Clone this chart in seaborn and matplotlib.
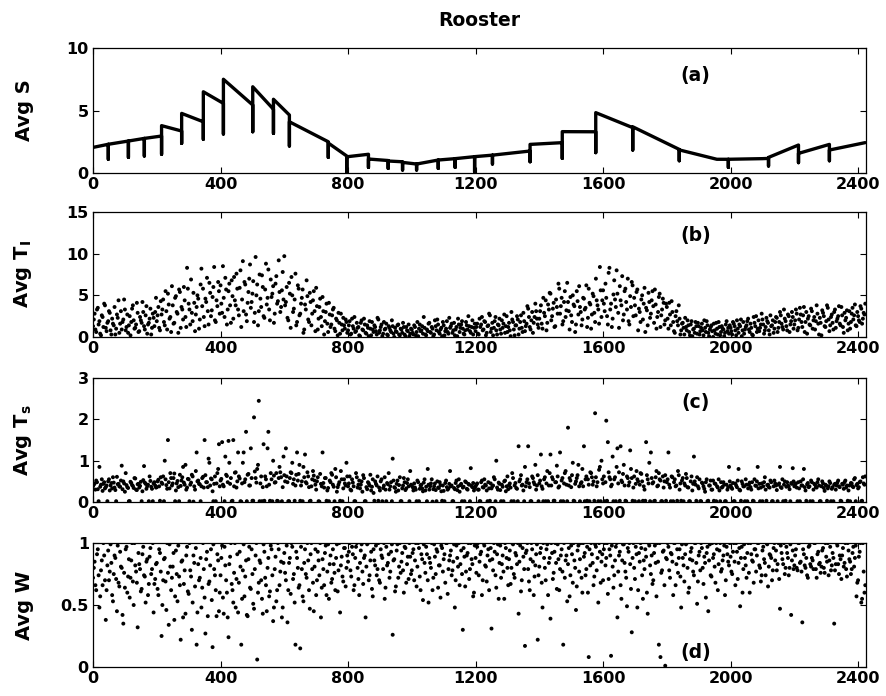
import numpy as np
import pandas as pd
import matplotlib
matplotlib.use("Agg")
import matplotlib.pyplot as plt
import seaborn as sns

# ---------------- data ----------------
title = "Rooster"
x_ticks = [0, 400, 800, 1200, 1600, 2000, 2400]

# (a) Avg S : polyline vertices (sawtooth with downward spikes)
s_x = [0, 48, 48, 48, 111, 111, 111, 161, 161, 161, 215, 215, 215, 278, 278, 278,
       346, 346, 346, 409, 409, 409, 501, 501, 501, 566, 566, 566, 616, 616, 616,
       738, 738, 738, 796, 796, 796, 864, 864, 864, 926, 926, 926, 971, 971, 971,
       1015, 1015, 1015, 1083, 1083, 1083, 1136, 1136, 1136, 1197, 1197, 1197,
       1253, 1253, 1253, 1371, 1371, 1371, 1472, 1472, 1472, 1577, 1577, 1577,
       1693, 1693, 1693, 1839, 1839, 1839, 1957, 1993, 1993, 1993, 2100,
       2119, 2119, 2119, 2213, 2213, 2213, 2310, 2310, 2310, 2422]
s_y = [2.05, 2.3, 1.1, 2.3, 2.56, 1.25, 2.56, 2.77, 1.36, 2.77, 2.96, 1.5, 3.79,
       3.36, 2.37, 4.77, 4.1, 2.7, 6.5, 5.57, 3.12, 7.5, 5.44, 3.3, 6.9, 5.1, 3.17, 5.9,
       4.64, 2.16, 4.1, 2.5, 1.25, 2.4, 1.36, 0.1, 1.3, 1.5, 0.45, 1.12, 1.0, 0.37, 0.96,
       0.9, 0.24, 0.85, 0.72, 0.24, 0.72, 1.04, 0.37, 1.04, 1.15, 0.45, 1.15,
       1.31, 0.1, 1.31, 1.43, 0.72, 1.43, 1.76, 0.9, 2.29, 2.43, 1.17, 3.31,
       3.3, 1.63, 4.83, 3.63, 1.84, 3.7, 1.89, 0.98, 1.85, 1.1, 1.1, 0.45, 1.1, 1.15,
       1.17, 0.56, 1.25, 2.24, 0.83, 1.57, 2.29, 0.98, 1.84, 2.43]

# (b) Avg T_I  (values in tenths; set A at steps 0,5,10,..., set B at 2.5,7.5,...)
ti_tenths = [
    13, 28, 6, 35, 19, 2, 24, 40, 11, 17, 31, 8, 22, 14, 3, 27, 44, 16, 9, 21, 33, 12, 5, 25, 18, 38, 10, 15, 29, 7, 20, 42, 13, 26, 4, 17, 34, 11, 23, 30,
    19, 36, 8, 27, 45, 14, 31, 52, 22, 6, 38, 17, 49, 28, 57, 11, 33, 60, 24, 83, 40, 15, 29, 53, 7, 36, 46, 21, 82, 58, 13, 42, 31, 65, 25, 48, 84, 18, 37, 55,
    62, 29, 47, 71, 15, 55, 38, 68, 22, 44, 76, 33, 59, 12, 91, 66, 27, 41, 70, 35, 52, 18, 96, 63, 31, 46, 74, 25, 57, 39, 81, 20, 48, 61, 28, 73, 43, 54, 36, 78,
    97, 42, 23, 65, 11, 50, 34, 76, 18, 58, 28, 47, 5, 39, 68, 21, 53, 14, 44, 31, 59, 9, 36, 24, 48, 3, 30, 16, 41, 12, 26, 35, 7, 20, 29, 4, 15, 23, 10, 18,
    8, 19, 4, 13, 24, 7, 11, 2, 17, 9, 22, 5, 14, 1, 10, 18, 6, 12, 3, 21, 8, 15, 4, 9, 16, 2, 11, 6, 13, 0, 7, 14, 3, 10, 5, 12, 1, 8, 15, 4,
    9, 3, 12, 6, 1, 15, 8, 4, 11, 2, 7, 17, 5, 10, 3, 13, 21, 6, 9, 1, 14, 7, 19, 4, 11, 16, 8, 2, 12, 22, 6, 15, 10, 3, 18, 9, 13, 5, 20, 11,
    7, 16, 3, 12, 24, 9, 18, 5, 14, 26, 10, 2, 19, 8, 15, 22, 4, 11, 27, 13, 6, 17, 1, 21, 9, 14, 25, 3, 18, 11, 29, 7, 16, 34, 12, 20, 5, 24, 31, 15,
    22, 38, 10, 29, 44, 17, 33, 52, 25, 41, 13, 36, 64, 28, 47, 19, 55, 32, 42, 9, 26, 50, 37, 15, 43, 61, 30, 21, 46, 35, 12, 58, 39, 27, 49, 18, 44, 33, 84, 24,
    56, 31, 47, 15, 83, 40, 22, 68, 36, 52, 11, 44, 73, 27, 58, 33, 19, 49, 66, 25, 38, 54, 8, 30, 45, 21, 59, 35, 14, 42, 28, 55, 17, 39, 24, 48, 12, 33, 41, 20,
    36, 10, 27, 43, 18, 5, 31, 14, 22, 8, 17, 3, 12, 20, 6, 15, 1, 10, 18, 4, 13, 7, 16, 2, 11, 19, 5, 9, 14, 0, 8, 17, 3, 12, 6, 10, 1, 15, 7, 4,
    11, 3, 16, 8, 20, 5, 13, 1, 18, 9, 14, 22, 6, 11, 2, 17, 25, 10, 7, 15, 21, 4, 12, 19, 8, 26, 14, 5, 18, 23, 11, 30, 16, 9, 22, 13, 27, 6, 19, 24,
    15, 33, 8, 21, 27, 12, 36, 18, 4, 25, 14, 31, 20, 9, 38, 16, 23, 2, 29, 13, 19, 35, 7, 24, 17, 30, 11, 22, 37, 14, 26, 5, 20, 32, 16, 10, 28, 21, 39, 13, 25, 18, 34, 22, 27,
]
ti2_tenths = [
    21, 9, 33, 15, 4, 26, 12, 38, 7, 19, 29, 3, 16, 36, 10, 23, 5, 31, 18, 45, 8, 27, 14, 2, 34, 20, 11, 41, 6, 24, 17, 30, 9, 37, 15, 22, 3, 28, 13, 47,
    26, 11, 43, 33, 18, 55, 9, 39, 24, 61, 16, 47, 30, 5, 54, 36, 21, 44, 12, 58, 33, 69, 19, 41, 27, 50, 10, 63, 37, 24, 46, 71, 15, 53, 32, 60, 20, 44, 66, 28,
    40, 85, 24, 57, 33, 64, 17, 49, 72, 38, 58, 26, 80, 45, 31, 63, 19, 54, 87, 42, 67, 29, 50, 14, 75, 36, 60, 23, 88, 47, 33, 69, 52, 17, 64, 40, 92, 30, 56, 45,
    38, 60, 20, 52, 72, 30, 45, 14, 62, 26, 40, 57, 9, 33, 49, 18, 42, 28, 55, 7, 37, 22, 46, 13, 31, 19, 40, 6, 27, 15, 33, 10, 22, 2, 17, 28, 8, 14, 21, 5,
    14, 3, 22, 10, 6, 17, 12, 1, 20, 8, 15, 4, 11, 19, 2, 9, 14, 7, 23, 5, 12, 1, 18, 10, 3, 13, 8, 20, 4, 11, 6, 15, 2, 9, 17, 3, 12, 7, 1, 10,
    5, 14, 2, 18, 10, 7, 13, 24, 3, 9, 16, 6, 12, 1, 20, 8, 15, 4, 11, 18, 2, 10, 6, 23, 13, 5, 17, 9, 1, 15, 11, 19, 4, 8, 14, 25, 7, 12, 3, 16,
    12, 4, 22, 15, 8, 19, 2, 13, 28, 6, 17, 11, 24, 3, 14, 9, 20, 16, 5, 25, 12, 8, 30, 18, 2, 14, 21, 10, 26, 6, 19, 13, 37, 24, 9, 30, 17, 40, 22, 11,
    31, 16, 47, 25, 8, 39, 53, 20, 34, 12, 45, 28, 58, 37, 15, 42, 24, 65, 31, 48, 18, 39, 6, 55, 27, 36, 14, 47, 33, 62, 23, 41, 10, 52, 29, 70, 38, 16, 56, 44,
    40, 64, 25, 77, 33, 12, 51, 45, 80, 29, 61, 38, 20, 55, 42, 70, 15, 36, 62, 47, 26, 57, 34, 18, 50, 40, 6, 32, 53, 23, 44, 37, 57, 10, 30, 52, 26, 46, 15, 40,
    22, 41, 14, 30, 7, 25, 19, 38, 3, 16, 11, 23, 8, 14, 2, 19, 9, 5, 13, 17, 3, 11, 8, 20, 6, 14, 1, 12, 7, 16, 4, 10, 18, 2, 13, 9, 5, 19, 11, 14,
    7, 18, 13, 2, 10, 15, 21, 8, 4, 12, 19, 9, 16, 3, 24, 13, 6, 20, 11, 28, 15, 8, 23, 17, 3, 13, 20, 10, 24, 6, 18, 26, 12, 33, 19, 8, 25, 15, 30, 10,
    20, 28, 11, 35, 18, 26, 6, 30, 22, 15, 34, 10, 24, 19, 28, 3, 17, 32, 25, 12, 38, 21, 14, 27, 9, 33, 19, 25, 16, 36, 12, 29, 23, 8, 31, 18, 35, 26, 14, 30, 20, 37, 16, 29, 40,
]

# (c) Avg T_s  (values in hundredths)
ts_hund = [
    38, 45, 52, 31, 85, 42, 27, 48, 36, 2, 55, 40, 33, 47, 29, 61, 44, 37, 88, 50, 25, 41, 34, 2, 46, 39, 58, 30, 43, 35, 49, 26, 87, 44, 38, 2, 51, 32, 45, 40,
    36, 54, 3, 47, 62, 100, 41, 150, 33, 58, 45, 69, 28, 51, 2, 39, 60, 47, 90, 35, 55, 42, 66, 1, 30, 120, 52, 43, 38, 61, 150, 48, 36, 95, 57, 26, 44, 2, 70, 140,
    52, 145, 38, 110, 63, 148, 44, 2, 150, 71, 35, 120, 57, 1, 95, 48, 170, 66, 40, 130, 3, 205, 58, 80, 245, 45, 2, 140, 62, 38, 170, 3, 55, 100, 47, 70, 2, 85, 60, 36,
    65, 130, 48, 2, 72, 95, 55, 40, 120, 68, 3, 50, 85, 115, 45, 62, 2, 38, 75, 52, 30, 60, 1, 44, 120, 35, 58, 28, 2, 48, 66, 37, 80, 25, 42, 3, 55, 33, 45, 95,
    38, 62, 28, 47, 2, 70, 35, 52, 42, 25, 58, 2, 31, 45, 66, 37, 22, 50, 40, 3, 28, 55, 34, 60, 2, 43, 30, 48, 105, 36, 25, 52, 41, 2, 33, 58, 29, 46, 38, 75,
    40, 28, 35, 2, 48, 32, 42, 26, 55, 37, 80, 30, 45, 1, 38, 29, 50, 34, 41, 3, 27, 46, 36, 33, 75, 40, 2, 31, 52, 38, 25, 44, 35, 2, 48, 30, 42, 82, 36, 28,
    38, 45, 30, 2, 52, 35, 42, 28, 48, 3, 33, 40, 55, 100, 30, 44, 2, 37, 50, 26, 62, 41, 35, 70, 2, 46, 32, 135, 55, 40, 28, 85, 48, 135, 36, 2, 58, 43, 30, 65,
    45, 115, 32, 55, 2, 75, 40, 115, 60, 3, 48, 88, 35, 120, 52, 2, 70, 42, 180, 58, 36, 95, 2, 50, 65, 38, 45, 80, 135, 55, 3, 42, 72, 60, 50, 215, 38, 2, 85, 100,
    45, 2, 197, 145, 60, 38, 110, 55, 2, 130, 72, 135, 48, 90, 3, 62, 40, 125, 58, 35, 2, 75, 50, 42, 68, 3, 30, 145, 55, 95, 120, 45, 2, 60, 38, 70, 52, 2, 35, 65,
    48, 120, 35, 62, 2, 55, 40, 75, 30, 3, 58, 45, 68, 36, 2, 50, 28, 110, 42, 60, 33, 2, 47, 38, 25, 55, 3, 40, 30, 52, 45, 2, 35, 28, 48, 37, 42, 2, 30, 85,
    40, 32, 2, 45, 36, 80, 28, 50, 38, 2, 42, 33, 47, 30, 3, 55, 39, 85, 44, 35, 2, 48, 30, 41, 36, 52, 2, 38, 45, 29, 42, 85, 34, 2, 50, 37, 40, 31, 46, 82,
    38, 45, 2, 33, 50, 40, 80, 28, 43, 36, 2, 48, 30, 42, 35, 55, 2, 38, 45, 27, 40, 33, 50, 2, 36, 42, 30, 47, 38, 3, 44, 32, 52, 40, 28, 2, 45, 36, 58, 41, 33, 48, 2, 60, 42,
]
ts2_hund = [
    42, 30, 48, 2, 37, 55, 44, 33, 40, 50, 28, 46, 60, 35, 2, 43, 38, 52, 31, 45, 70, 36, 2, 49, 41, 34, 57, 29, 44, 39, 2, 53, 47, 32, 42, 62, 37, 2, 48, 35,
    50, 38, 60, 44, 2, 55, 32, 48, 70, 40, 58, 2, 45, 36, 66, 52, 85, 42, 30, 56, 2, 47, 62, 38, 75, 50, 44, 2, 58, 35, 65, 48, 105, 40, 55, 2, 62, 45, 80, 38,
    56, 42, 2, 66, 48, 95, 58, 3, 38, 72, 50, 62, 2, 45, 120, 55, 2, 68, 40, 58, 3, 74, 47, 90, 2, 62, 36, 3, 55, 130, 42, 70, 2, 64, 48, 3, 58, 72, 2, 110,
    50, 62, 2, 58, 70, 44, 3, 66, 52, 90, 40, 2, 60, 48, 72, 36, 3, 55, 64, 42, 50, 2, 68, 38, 46, 58, 3, 34, 52, 70, 42, 2, 60, 36, 48, 75, 2, 55, 40, 62,
    45, 30, 55, 38, 2, 60, 42, 33, 50, 65, 2, 36, 48, 40, 28, 55, 3, 44, 62, 35, 50, 2, 40, 30, 46, 70, 38, 2, 52, 34, 44, 28, 60, 2, 40, 48, 33, 55, 2, 42,
    36, 45, 30, 52, 2, 40, 33, 47, 28, 2, 42, 38, 55, 31, 45, 2, 35, 48, 26, 40, 2, 52, 30, 44, 38, 2, 34, 46, 29, 55, 41, 2, 37, 50, 32, 44, 2, 39, 46, 34,
    42, 30, 2, 48, 36, 55, 40, 2, 33, 45, 38, 60, 2, 35, 47, 29, 42, 2, 52, 38, 31, 45, 2, 58, 40, 34, 2, 50, 65, 42, 2, 38, 55, 45, 2, 62, 48, 90, 40, 2,
    52, 38, 2, 60, 45, 2, 70, 40, 55, 3, 48, 62, 38, 2, 58, 45, 75, 2, 40, 52, 65, 3, 44, 58, 90, 2, 48, 38, 2, 62, 55, 2, 70, 42, 3, 60, 48, 78, 2, 55,
    62, 48, 3, 72, 55, 42, 2, 60, 85, 45, 3, 52, 68, 40, 2, 58, 48, 80, 3, 62, 44, 55, 2, 70, 50, 38, 3, 65, 45, 2, 58, 48, 3, 75, 40, 55, 2, 62, 50, 3,
    55, 42, 2, 60, 48, 38, 3, 65, 45, 52, 2, 40, 58, 35, 2, 62, 44, 50, 3, 38, 55, 2, 45, 32, 48, 2, 40, 52, 30, 3, 44, 38, 55, 2, 35, 48, 2, 42, 36, 50,
    35, 46, 2, 40, 52, 30, 3, 44, 38, 55, 2, 42, 36, 48, 2, 40, 50, 33, 2, 45, 38, 60, 3, 42, 35, 48, 2, 52, 40, 2, 45, 36, 55, 42, 3, 48, 38, 2, 44, 50,
    42, 35, 48, 2, 40, 55, 36, 3, 46, 38, 52, 2, 44, 36, 48, 40, 2, 50, 34, 42, 3, 38, 46, 32, 2, 44, 40, 52, 36, 2, 42, 48, 35, 3, 40, 46, 38, 55, 2, 44, 36, 50, 3, 45, 62,
]

# (d) Avg W  (values in hundredths)
w_hund = [
    72, 85, 62, 95, 48, 78, 66, 90, 38, 82, 70, 99, 58, 75, 88, 45, 68, 93, 80, 35, 64, 97, 73, 56, 86, 69, 100, 77, 32, 83, 61, 91, 74, 52, 87, 67, 96, 79, 44, 71,
    84, 58, 92, 25, 70, 88, 46, 76, 99, 62, 81, 38, 94, 53, 73, 22, 86, 67, 43, 97, 59, 78, 30, 90, 65, 18, 83, 72, 48, 100, 56, 87, 41, 69, 95, 16, 79, 62, 91, 45,
    74, 98, 43, 82, 60, 24, 89, 67, 52, 100, 71, 44, 93, 18, 78, 57, 86, 41, 97, 63, 75, 47, 90, 6, 68, 84, 55, 99, 72, 45, 88, 61, 95, 37, 79, 53, 100, 66, 85, 48,
    92, 70, 36, 84, 59, 97, 75, 18, 88, 64, 15, 79, 53, 95, 72, 86, 47, 100, 68, 81, 58, 93, 74, 40, 87, 66, 98, 77, 55, 90, 71, 83, 62, 99, 78, 44, 89, 69, 96, 80,
    85, 100, 73, 91, 66, 97, 80, 58, 94, 77, 88, 40, 99, 70, 86, 63, 95, 82, 74, 100, 68, 90, 79, 55, 97, 84, 72, 93, 26, 87, 65, 99, 81, 76, 92, 60, 96, 83, 71, 89,
    78, 95, 86, 65, 100, 73, 91, 54, 84, 97, 70, 88, 80, 62, 99, 75, 93, 82, 56, 96, 87, 68, 100, 79, 90, 74, 85, 48, 98, 81, 66, 94, 30, 89, 77, 92, 71, 100, 83, 60,
    88, 97, 74, 91, 58, 100, 82, 69, 95, 86, 31, 78, 93, 64, 99, 84, 72, 90, 55, 96, 80, 87, 67, 100, 75, 92, 83, 43, 98, 70, 89, 17, 94, 79, 62, 100, 85, 73, 91, 22,
    81, 96, 48, 88, 70, 99, 84, 39, 92, 76, 100, 63, 87, 79, 95, 18, 72, 90, 83, 57, 98, 68, 86, 46, 94, 77, 100, 60, 89, 74, 97, 8, 82, 91, 66, 99, 78, 52, 93, 85,
    70, 100, 88, 59, 95, 9, 81, 74, 97, 40, 90, 66, 86, 99, 77, 49, 93, 83, 28, 100, 71, 91, 62, 85, 96, 55, 79, 89, 43, 98, 75, 67, 92, 84, 100, 18, 8, 78, 94, 1,
    87, 97, 72, 91, 58, 100, 83, 76, 95, 48, 88, 69, 99, 80, 64, 93, 86, 74, 100, 51, 90, 78, 96, 67, 84, 92, 45, 99, 73, 88, 81, 100, 62, 94, 77, 86, 98, 70, 91, 82,
    89, 75, 100, 66, 93, 84, 49, 97, 79, 88, 72, 100, 60, 91, 85, 95, 77, 100, 82, 69, 94, 87, 74, 99, 81, 90, 70, 96, 86, 78, 100, 47, 92, 83, 75, 97, 88, 80, 42, 94,
    82, 95, 78, 100, 85, 36, 91, 80, 74, 97, 83, 88, 79, 100, 72, 93, 84, 81, 96, 76, 89, 100, 86, 78, 92, 35, 83, 98, 75, 87, 90, 81, 100, 73, 94, 85, 79, 97, 88, 57, 70, 93, 52, 100, 60,
]
w2_hund = [
    80, 66, 91, 74, 57, 86, 100, 70, 62, 94, 77, 84, 53, 90, 71, 98, 65, 81, 42, 76, 95, 60, 87, 72, 100, 50, 82, 68, 92, 79, 63, 97, 73, 85, 58, 89, 75, 100, 67, 83,
    63, 95, 77, 50, 87, 69, 100, 34, 81, 72, 92, 57, 75, 98, 66, 85, 40, 78, 90, 61, 100, 73, 52, 84, 96, 44, 70, 88, 64, 79, 27, 93, 67, 82, 54, 99, 74, 41, 86, 60,
    88, 56, 97, 70, 40, 83, 100, 62, 76, 48, 91, 68, 81, 55, 99, 73, 42, 87, 64, 95, 51, 79, 100, 60, 86, 70, 43, 93, 66, 80, 57, 98, 74, 48, 89, 62, 95, 77, 40, 84,
    76, 98, 62, 88, 100, 71, 52, 93, 80, 66, 97, 57, 84, 75, 100, 62, 91, 79, 45, 95, 70, 86, 100, 64, 79, 92, 58, 99, 83, 68, 95, 76, 88, 61, 100, 82, 73, 96, 65, 90,
    93, 78, 97, 62, 88, 100, 71, 84, 99, 67, 90, 81, 100, 74, 93, 57, 86, 98, 79, 70, 95, 88, 100, 64, 82, 91, 77, 99, 86, 61, 94, 72, 100, 85, 78, 97, 68, 89, 100, 75,
    92, 70, 100, 81, 96, 62, 87, 99, 76, 91, 52, 84, 100, 72, 89, 95, 64, 82, 98, 77, 91, 100, 59, 86, 94, 78, 99, 70, 88, 100, 83, 75, 96, 65, 90, 100, 79, 87, 57, 98,
    76, 100, 85, 93, 70, 98, 81, 90, 62, 96, 87, 100, 74, 91, 55, 98, 83, 77, 100, 88, 66, 94, 80, 99, 72, 90, 100, 85, 61, 96, 79, 92, 100, 69, 87, 95, 58, 82, 99, 74,
    92, 68, 100, 80, 95, 58, 88, 100, 71, 93, 84, 99, 62, 90, 77, 100, 86, 53, 96, 74, 91, 100, 80, 65, 98, 87, 72, 100, 92, 79, 60, 95, 100, 84, 73, 97, 88, 100, 68, 91,
    95, 82, 100, 71, 90, 98, 64, 86, 100, 77, 93, 55, 99, 84, 72, 96, 100, 63, 88, 80, 97, 48, 92, 100, 74, 86, 95, 60, 100, 82, 90, 70, 98, 57, 85, 100, 76, 93, 66, 88,
    100, 78, 92, 85, 100, 66, 95, 88, 73, 99, 82, 91, 100, 60, 87, 96, 77, 100, 84, 69, 93, 100, 80, 89, 56, 97, 86, 74, 100, 91, 68, 95, 83, 100, 79, 90, 58, 97, 85, 100,
    77, 93, 85, 100, 71, 96, 88, 60, 99, 82, 92, 76, 100, 86, 68, 95, 90, 100, 80, 74, 97, 84, 100, 65, 91, 88, 78, 100, 94, 83, 71, 98, 87, 100, 80, 92, 74, 99, 86, 79,
    90, 80, 100, 84, 77, 95, 82, 88, 72, 98, 81, 86, 100, 79, 91, 83, 76, 94, 80, 100, 85, 74, 97, 82, 88, 78, 100, 83, 90, 71, 96, 84, 79, 100, 87, 75, 92, 81, 98, 68, 89, 100, 55, 77, 66,
]

ylabels = ["Avg S", r"Avg T$_\mathrm{I}$", r"Avg T$_\mathrm{s}$", "Avg W"]
panel_tags = ["(a)", "(b)", "(c)", "(d)"]
ylims = [(0, 10), (0, 15), (0, 3), (0, 1)]
yticks = [[0, 5, 10], [0, 5, 10, 15], [0, 1, 2, 3], [0, 0.5, 1]]
ytick_labels = [["0", "5", "10"], ["0", "5", "10", "15"], ["0", "1", "2", "3"], ["0", "0.5", "1"]]
tag_y = [7.8, 12.2, 2.4, 0.12]

# ---------------- style ----------------
sns.set_theme(style="ticks")
plt.rcParams["font.family"] = ["DejaVu Sans"]
plt.rcParams["font.weight"] = "bold"
for key in ["text.color", "axes.labelcolor", "xtick.color", "ytick.color", "axes.edgecolor"]:
    plt.rcParams[key] = "black"
plt.rcParams["mathtext.fontset"] = "custom"
plt.rcParams["mathtext.rm"] = "DejaVu Sans:bold"
plt.rcParams["mathtext.bf"] = "DejaVu Sans:bold"
plt.rcParams["mathtext.it"] = "DejaVu Sans:bold"

fig = plt.figure(figsize=(8.86, 6.96), dpi=100)
left, width = 0.105, 0.8725
bottoms = [0.7514, 0.5158, 0.2787, 0.0417]
heights = [0.1796, 0.1796, 0.178, 0.178]
axes = [fig.add_axes([left, b, width, h]) for b, h in zip(bottoms, heights)]

# panel a
df_a = pd.DataFrame({"x": s_x, "y": s_y})
sns.lineplot(data=df_a, x="x", y="y", ax=axes[0], color="black", linewidth=2.4,
             estimator=None, sort=False)

# scatter panels
scatter_sets = [
    (ti_tenths, ti2_tenths, 10.0),
    (ts_hund, ts2_hund, 100.0),
    (w_hund, w2_hund, 100.0),
]
for ax, (va, vb, scale) in zip(axes[1:], scatter_sets):
    va = np.array(va) / scale
    vb = np.array(vb) / scale
    df = pd.DataFrame({
        "x": np.concatenate([np.arange(len(va)) * 5.0, np.arange(len(vb)) * 5.0 + 2.5]),
        "y": np.concatenate([va, vb]),
    })
    sns.scatterplot(data=df, x="x", y="y", ax=ax, color="black", s=8,
                    linewidth=0, edgecolor="none")

for i, ax in enumerate(axes):
    ax.set_xlim(0, 2425)
    ax.set_ylim(*ylims[i])
    ax.set_xticks(x_ticks)
    ax.set_xticklabels([str(t) for t in x_ticks], fontsize=11.5, fontweight="bold")
    ax.set_yticks(yticks[i])
    ax.set_yticklabels(ytick_labels[i], fontsize=11.5, fontweight="bold")
    ax.set_xlabel("")
    ax.set_ylabel(ylabels[i], fontsize=14, fontweight="bold")
    ax.yaxis.set_label_coords(-0.077, 0.5)
    ax.tick_params(direction="in", top=True, right=True, length=4, width=0.8,
                   pad=3, colors="black")
    for sp in ax.spines.values():
        sp.set_visible(True)
        sp.set_color("black")
        sp.set_linewidth(0.9)
    ax.text(1890, tag_y[i], panel_tags[i], ha="center", va="center",
            fontsize=13.5, fontweight="bold")

axes[0].set_title(title, fontsize=13.5, fontweight="bold", pad=16)

fig.savefig("out.png", dpi=100)
